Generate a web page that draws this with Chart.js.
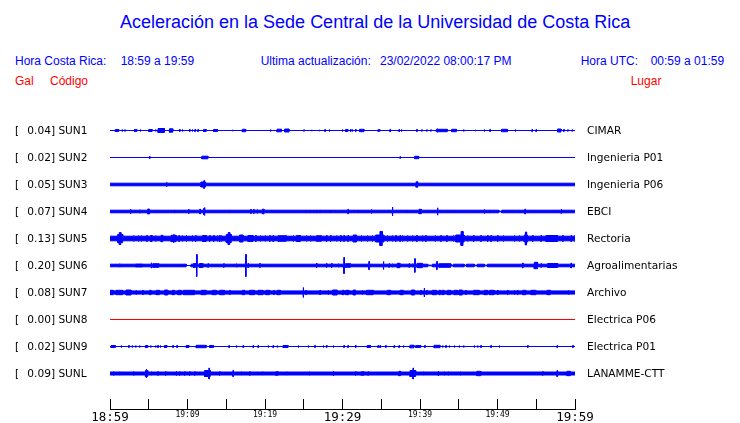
<!DOCTYPE html>
<html>
<head>
<meta charset="utf-8">
<script src="https://cdn.jsdelivr.net/npm/chart.js@4"></script>
<style>
  html, body { margin: 0; padding: 0; background: #fff; overflow: hidden; }
  #wrap { position: relative; width: 740px; height: 423px; }
  canvas { position: absolute; left: 0; top: 0; }
  .t { position: absolute; white-space: pre; line-height: 1; }
  .hd { font: 12px "Liberation Sans", Arial, sans-serif; color: #0000ff; }
  .red { color: #ff0000; }
  .lb { font: 10.6px "DejaVu Sans", sans-serif; color: #000; }
</style>
</head>
<body>
<div id="wrap">
  <div class="t" style="left:120px;top:12px;font:18px 'Liberation Sans',Arial,sans-serif;color:#0000ff">Aceleración en la Sede Central de la Universidad de Costa Rica</div>
  <div class="t hd" style="left:15px;top:54px">Hora Costa Rica:</div>
  <div class="t hd" style="left:120.7px;top:54px">18:59 a 19:59</div>
  <div class="t hd" style="left:260.7px;top:54px">Ultima actualización:</div>
  <div class="t hd" style="left:380px;top:54px">23/02/2022 08:00:17 PM</div>
  <div class="t hd" style="left:580.7px;top:54px">Hora UTC:</div>
  <div class="t hd" style="left:650.7px;top:54px">00:59 a 01:59</div>
  <div class="t hd red" style="left:15px;top:73.5px">Gal</div>
  <div class="t hd red" style="left:50px;top:73.5px">Código</div>
  <div class="t hd red" style="left:630.7px;top:73.5px">Lugar</div>
  <canvas id="c" width="740" height="423"></canvas>
</div>
<script>
// station table
const stationCodes = ['SUN1', 'SUN2', 'SUN3', 'SUN4', 'SUN5', 'SUN6', 'SUN7', 'SUN8', 'SUN9', 'SUNL'];
const peakGal = ['0.04', '0.02', '0.05', '0.07', '0.13', '0.20', '0.08', '0.00', '0.02', '0.09'];
const placeNames = ['CIMAR', 'Ingenieria P01', 'Ingenieria P06', 'EBCI', 'Rectoria', 'Agroalimentarias',
  'Archivo', 'Electrica P06', 'Electrica P01', 'LANAMME-CTT'];
// background noise half-amplitude of each trace
const baseAmp = [0, 0, 1.3, 1.3, 2.3, 1.3, 1.6, 0, 0, 1.5];
const tickLabels = ['18:59', '', '19:09', '', '19:19', '', '19:29', '', '19:39', '', '19:49', '', '19:59'];

// events: [minute, halfAmp] for a single spike, [start, end, halfAmp] for a burst
// minutes counted from 18:59
const sun1 = [[0.69, 1.12, 1], [1.55, 1], [1.9, 0.7], [3.15, 3.45, 1], [3.88, 1], [5.0, 5.43, 1], [5.86, 1],
  [6.2, 7.03, 2], [7.67, 8.1, 1.7], [8.97, 1], [9.31, 1], [10.26, 1], [10.6, 1], [10.95, 1], [11.34, 1],
  [12.07, 12.41, 1], [13.36, 13.88, 1], [15.78, 0.7], [17.07, 17.5, 1.2], [20.69, 1], [21.55, 22.11, 1.3],
  [22.54, 23.1, 1.5], [25.0, 0.7], [25.99, 0.7], [26.98, 0.7], [27.72, 1], [28.28, 1], [29.96, 1],
  [30.39, 30.69, 1], [31.03, 1], [31.25, 1], [31.68, 1], [32.2, 32.76, 1.2], [34.57, 34.83, 0.8], [36.12, 1.2],
  [37.28, 1], [37.58, 1], [39.57, 1], [40.21, 0.7], [40.86, 0.7], [41.38, 0.7], [42.11, 43.53, 1.2], [42.2, 1.8],
  [44.09, 44.7, 1.2], [45.6, 1], [47.11, 0.7], [48.27, 1], [49.01, 1], [50.52, 51.29, 1.2], [52.28, 1],
  [54.44, 1], [54.96, 1], [57.76, 58.19, 1.5], [58.53, 1], [59.05, 0.7], [59.61, 0.7]];
const sun2 = [[5.09, 1.5], [11.85, 12.63, 1.3], [37.41, 0.8], [39.31, 39.83, 1.2]];
const sun3 = [[7.28, 2.2], [11.72, 12.33, 2.5], [12.1, 12.2, 3.8], [39.5, 39.7, 2.7]];
const sun4 = [[2.63, 2.3], [3.79, 1.8], [4.87, 5.09, 2.5], [5.6, 1.5], [8.32, 1.5], [10.13, 2], [11.59, 2.5],
  [12.07, 12.24, 3], [12.16, 4], [15.34, 1.5], [18.15, 2], [18.53, 2], [18.97, 2], [19.66, 19.87, 2.3],
  [25.26, 1.5], [25.78, 1.5], [26.64, 1.5], [27.07, 1.5], [28.45, 1.5], [29.31, 1.5], [30.69, 2.2], [31.98, 1.5],
  [33.71, 2], [34.61, 1.5], [36.42, 4.5], [38.27, 1.5], [39.87, 40.17, 2.2], [42.24, 3.7], [46.12, 1.5],
  [48.27, 2], [49.01, 1.5], [50.17, 50.56, 0.3], [53.53, 2.5], [54.22, 1.5], [58.19, 1.8], [59.9, 1.5]];
const sun5 = [[0.99, 1.64, 4], [1.2, 1.4, 6], [3.02, 3], [3.66, 3], [4.01, 3], [4.74, 3], [5.22, 5.43, 3], [5.86, 3],
  [6.59, 6.81, 3.2], [7.89, 8.53, 3.2], [8.2, 3.8], [8.88, 3], [9.31, 3], [9.83, 3], [10.6, 3], [11.03, 3],
  [11.94, 12.41, 3], [12.84, 3], [13.36, 3], [13.84, 3], [14.14, 3], [14.35, 3], [15.0, 15.65, 4], [15.25, 15.45, 6],
  [16.72, 17.16, 3.5], [17.8, 18.45, 3], [18.79, 3], [19.4, 3], [20.0, 3], [20.6, 3], [21.03, 3],
  [21.68, 22.76, 2.8], [23.62, 3], [24.05, 24.57, 3], [25.34, 3], [25.86, 3], [26.64, 27.28, 2.8], [27.93, 3],
  [28.45, 3], [29.22, 3], [29.74, 3], [30.17, 3], [30.69, 3], [31.38, 31.81, 3.5], [32.41, 3], [33.19, 3],
  [33.83, 3], [34.27, 35.34, 3.5], [34.83, 35.13, 7], [35.77, 3], [36.42, 3], [36.85, 3], [37.41, 3], [37.71, 3],
  [38.36, 3], [39.01, 3], [39.57, 3], [40.3, 3], [40.73, 3], [41.94, 3], [42.67, 3], [43.45, 3], [44.31, 3],
  [44.61, 45.69, 3.5], [45.3, 45.55, 7], [46.12, 3], [46.9, 3], [47.84, 3], [48.71, 3], [49.14, 3], [50.0, 3],
  [50.73, 3], [52.15, 3], [52.8, 3], [53.45, 53.88, 3.5], [53.6, 53.75, 6.5], [54.52, 3], [55.6, 3],
  [56.25, 57.76, 3], [58.4, 3], [59.48, 3], [59.91, 3]];
const sun6 = [[1.21, 1.8], [3.28, 4.22, 1.5], [5.3, 2.7], [5.52, 6.29, 1.8], [9.83, 10.47, 0], [10.78, 11.03, 2],
  [11.16, 11], [11.55, 11.98, 2], [12.63, 1.8], [14.66, 1.8], [16.29, 1.8], [17.5, 11], [17.8, 2], [19.31, 2],
  [21.47, 1.5], [25.34, 1.2], [26.64, 2], [27.41, 1.5], [27.93, 1.8], [28.58, 2], [29.44, 1.8], [30.17, 8],
  [30.39, 31.03, 1.8], [33.4, 4], [35.26, 4], [35.99, 1.8], [36.42, 1.8], [37.07, 37.41, 2.2], [38.58, 1.8],
  [39.01, 1.8], [39.31, 6.8], [39.65, 40.3, 2.2], [41.0, 41.6, 0.3], [42.15, 4], [42.46, 43.96, 1.8],
  [44.0, 44.3, 0.3], [45.7, 46.0, 0.3], [47.0, 47.4, 0.3], [48.3, 48.7, 0.3], [53.23, 2.5], [54.74, 55.17, 3.2],
  [55.6, 1.8], [56.46, 57.76, 2], [59.48, 2.5]];
const sun7 = [[0, 0.43, 2.2], [0.78, 1.64, 2.2], [2.07, 2.72, 2.5], [3.36, 2.2], [4.22, 2.2], [5.09, 5.3, 2.2],
  [5.95, 6.38, 2.2], [7.03, 7.46, 2.5], [8.02, 8.32, 2.2], [8.75, 9.18, 2.2], [9.48, 10.91, 2.2],
  [11.77, 12.41, 2.2], [13.19, 13.71, 2.2], [14.14, 14.78, 2.2], [15.43, 2.2], [17.07, 17.37, 2.2],
  [18.02, 18.66, 2.2], [19.09, 19.74, 2.2], [20.09, 20.6, 2.2], [21.12, 2.2], [21.55, 21.98, 2.2], [24.91, 5],
  [25.26, 2.2], [27.07, 2.2], [28.15, 2.2], [28.71, 29.31, 2.5], [29.96, 30.17, 2.2], [30.39, 30.82, 2.2],
  [31.38, 31.68, 2.5], [32.54, 2.2], [33.1, 33.96, 2.2], [35.77, 36.21, 2.2], [37.41, 37.84, 2.2],
  [38.88, 39.31, 2.5], [40.09, 2.2], [40.52, 4.5], [40.86, 2.2], [41.59, 42.11, 2.2], [42.46, 42.67, 2.2],
  [42.89, 43.1, 2.2], [43.53, 43.96, 2.2], [44.4, 44.83, 2.2], [45.04, 45.47, 2.5], [45.9, 2.2],
  [46.9, 47.63, 2.2], [48.27, 48.71, 2.2], [48.96, 49.57, 2.2], [50.0, 2.2], [51.29, 2.2], [52.15, 2.2],
  [52.58, 2.2], [53.23, 53.66, 2.2], [54.31, 54.96, 2.2], [56.38, 56.81, 2.2], [59.14, 2.2]];
const sun8 = [];
const sun9 = [[0.13, 0.69, 1], [1.42, 1], [2.41, 1], [2.84, 1], [3.28, 1], [3.79, 1], [4.57, 4.87, 1], [5.22, 1],
  [5.86, 1], [6.16, 1], [6.47, 1], [7.03, 7.33, 1], [8.1, 1], [8.62, 1], [9.83, 10.17, 1], [11.12, 12.41, 1.2],
  [12.84, 13.36, 1], [15.34, 1], [16.29, 1], [17.16, 1], [18.45, 1], [19.09, 1], [20.39, 1], [21.03, 1],
  [21.55, 1], [22.33, 22.97, 1], [24.27, 1], [25.56, 1], [26.42, 1], [27.5, 1], [27.93, 1], [28.79, 1],
  [30.17, 1], [30.69, 1], [31.68, 1], [33.19, 33.62, 1], [34.57, 1], [34.83, 1], [35.56, 1], [36.64, 1],
  [37.28, 1], [37.84, 1], [38.71, 39.22, 1.3], [39.44, 40.09, 1], [40.6, 1], [41.81, 42.58, 1.2], [42.89, 1],
  [43.32, 1], [43.75, 1], [44.4, 1], [45.04, 1], [45.6, 1], [46.98, 1], [47.41, 1], [47.84, 1], [49.14, 1],
  [50.21, 1], [53.88, 1], [57.67, 1], [59.7, 1]];
const sunL = [[0.43, 2], [1.21, 1.8], [3.02, 2], [4.57, 4.87, 3], [4.66, 4.5], [5.3, 1.8], [6.16, 1.8], [7.16, 1.8],
  [8.53, 2.2], [8.97, 1.8], [9.61, 1.8], [10.26, 1.8], [10.91, 1.8], [12.2, 12.93, 3], [12.76, 5.5], [14.14, 1.8],
  [15.86, 3], [16.94, 1.8], [18.02, 1.8], [19.66, 1.8], [21.38, 21.68, 1.8], [22.76, 1.8], [25.69, 1.8],
  [28.79, 2.5], [31.68, 1.8], [32.41, 32.76, 1.8], [33.28, 1.8], [37.28, 37.5, 2.2], [38.71, 39.44, 3],
  [39.09, 5.5], [40.43, 1.8], [42.33, 2.5], [43.1, 1.8], [43.62, 1.8], [45.17, 1.8], [47.33, 47.84, 2.2],
  [55.82, 1.8], [57.67, 3], [58.97, 59.4, 2.2]];

const traceEvents = [sun1, sun2, sun3, sun4, sun5, sun6, sun7, sun8, sun9, sunL];

const ROW = 27;      // vertical distance between traces, in amplitude units
const TICK = 0.07;   // duration given to a single spike, minutes
const BLUE = '#0000ff';
const RED = '#ff0000';

// amplitude of a trace at time x: quiet spans lower the base, louder spans raise it
function ampAt(spans, base, x) {
  let a = base;
  spans.forEach(s => { if (x >= s[0] && x < s[1] && s[2] < base) a = s[2]; });
  spans.forEach(s => { if (x >= s[0] && x < s[1] && s[2] > base) a = Math.max(a, s[2]); });
  return a;
}

// step envelope as a polyline: each breakpoint gives the old and the new level
function envelope(events, base) {
  const spans = events.map(e => e.length === 2 ? [e[0], e[0] + TICK, e[1]] : e);
  const xs = [...new Set([0, 60, ...spans.flatMap(s => [s[0], s[1]])])].sort((a, b) => a - b);
  const pts = [];
  let prev = base;
  xs.forEach(x => {
    const a = x >= 60 ? prev : ampAt(spans, base, x);
    pts.push([x, prev]);
    if (a !== prev) pts.push([x, a]);
    prev = a;
  });
  return pts;
}

// upper edge filled down to the lower edge of the same trace
const datasets = [];
traceEvents.forEach((ev, i) => {
  const c = (9 - i) * ROW;
  const color = stationCodes[i] === 'SUN8' ? RED : BLUE;
  const env = envelope(ev, baseAmp[i]);
  [1, -1].forEach(sign => {
    datasets.push({
      data: env.map(([x, a]) => ({ x, y: c + sign * a })),
      borderColor: color,
      backgroundColor: color,
      borderWidth: 1,
      pointRadius: 0,
      tension: 0,
      fill: sign === 1 ? '+1' : false,
    });
  });
});

// labels on both sides of the traces
const wrap = document.getElementById('wrap');
function addText(cls, left, top, text) {
  const d = document.createElement('div');
  d.className = 't ' + cls;
  d.style.left = left + 'px';
  d.style.top = top + 'px';
  d.textContent = text;
  wrap.appendChild(d);
}
stationCodes.forEach((code, i) => {
  const top = 124.4 + i * 27;
  addText('lb', 15, top, '[');
  addText('lb', 27.3, top, `${peakGal[i]}] ${code}`);
  addText('lb', 587, top, placeNames[i]);
});

new Chart(document.getElementById('c').getContext('2d'), {
  type: 'line',
  data: { datasets },
  options: {
    responsive: false,
    animation: false,
    events: [],
    layout: { padding: { left: 110, right: 165, top: 115, bottom: 0 } },
    plugins: { legend: { display: false }, tooltip: { enabled: false } },
    scales: {
      x: {
        type: 'linear', min: 0, max: 60,
        border: { display: true, color: '#000', width: 1 },
        grid: { drawOnChartArea: false, drawTicks: true, tickLength: -10, color: '#000' },
        ticks: {
          stepSize: 5, autoSkip: false, maxRotation: 0, padding: 11, color: '#000',
          callback: (v, i) => tickLabels[i] ?? '',
          font: ctx => ({ family: '"DejaVu Sans Mono", monospace', size: ctx.index % 6 === 0 ? 12.5 : 8 }),
        },
        afterFit: s => { s.height = 14; s.paddingLeft = 0; s.paddingRight = 0; },
      },
      y: { display: false, min: -35.5, max: 258.5 },
    },
  },
});
</script>
</body>
</html>
